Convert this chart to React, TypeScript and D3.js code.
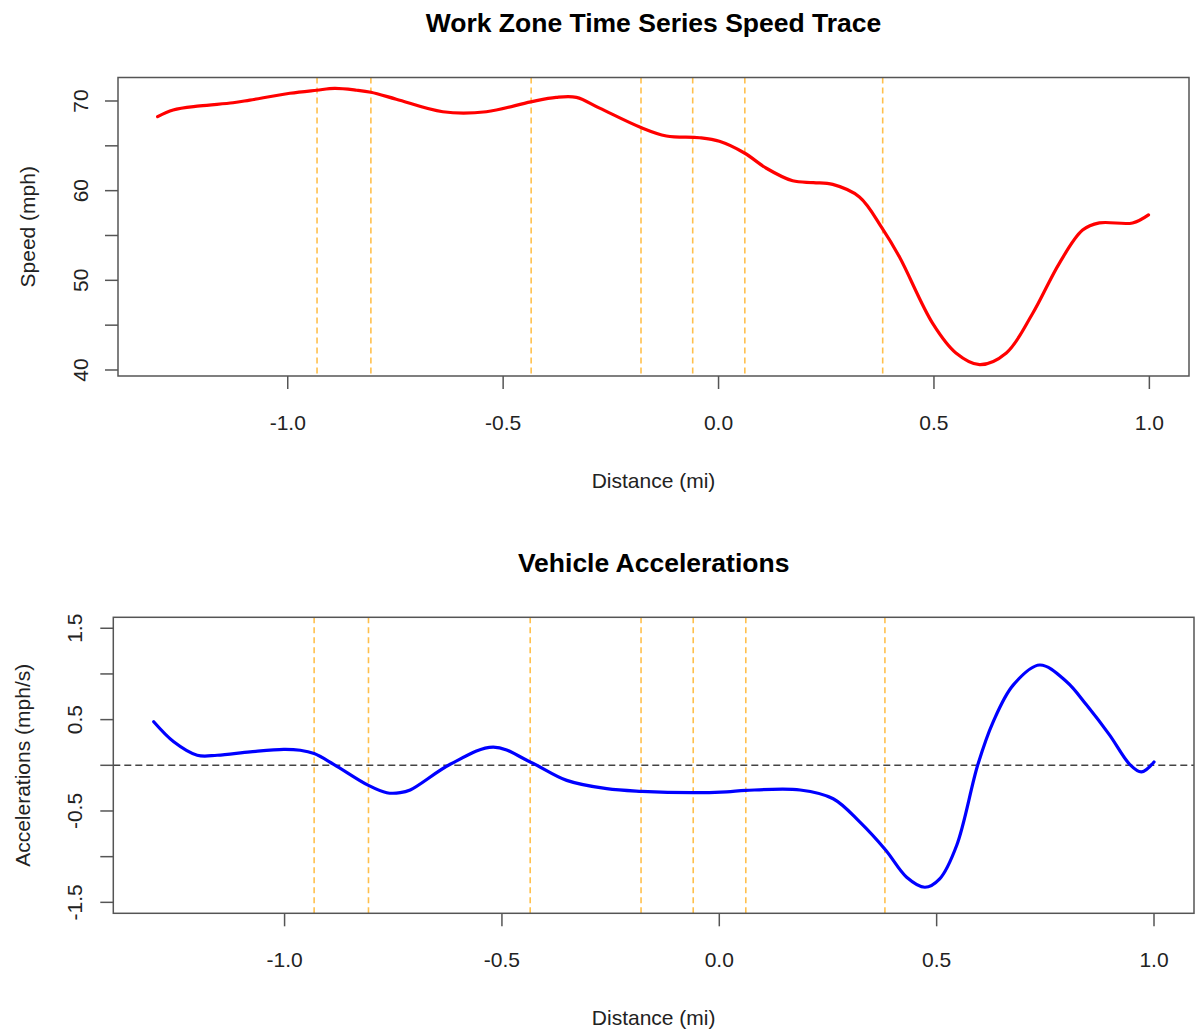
import React from "react";
import * as d3 from "d3";

// ---------- Data ----------
const speedDistance = [
  -1.302, -1.266, -1.204, -1.127, -1.088, -0.995, -0.933, -0.891, -0.84, -0.807,
  -0.748, -0.64, -0.539, -0.436, -0.377, -0.33, -0.276, -0.183, -0.121, -0.044,
  0.002, 0.06, 0.111, 0.172, 0.22, 0.265, 0.327, 0.38, 0.42, 0.497,
  0.551, 0.606, 0.668, 0.729, 0.791, 0.845, 0.884, 0.961, 0.998,
];
const speedValues = [
  68.25, 69.0, 69.45, 69.8, 70.1, 70.86, 71.2, 71.4, 71.2, 70.97,
  70.2, 68.8, 68.8, 69.9, 70.4, 70.4, 69.2, 67.1, 66.1, 65.9,
  65.5, 64.2, 62.5, 61.1, 60.9, 60.7, 59.3, 55.8, 52.6, 45.2,
  41.9, 40.6, 41.9, 46.3, 51.9, 55.6, 56.4, 56.4, 57.3,
];

const accelDistance = [
  -1.301, -1.255, -1.201, -1.155, -1.079, -1.002, -0.964, -0.932, -0.887, -0.807,
  -0.765, -0.734, -0.711, -0.619, -0.52, -0.435, -0.351, -0.259, -0.179, -0.06,
  0.017, 0.061, 0.186, 0.262, 0.323, 0.383, 0.431, 0.473, 0.507, 0.546,
  0.595, 0.63, 0.676, 0.737, 0.799, 0.845, 0.898, 0.944, 0.971, 1.0,
];
const accelValues = [
  0.476, 0.257, 0.11, 0.11, 0.147, 0.175, 0.165, 0.128, 0.011, -0.22,
  -0.3, -0.3, -0.27, 0.011, 0.2, 0.037, -0.165, -0.256, -0.285, -0.3,
  -0.29, -0.275, -0.27, -0.366, -0.62, -0.93, -1.225, -1.335, -1.243, -0.878,
  0.011, 0.476, 0.878, 1.098, 0.915, 0.659, 0.33, 0.011, -0.073, 0.037,
];

const zoneMarkers = [-0.932, -0.807, -0.435, -0.18, -0.06, 0.061, 0.381];

const xTicks = [-1.0, -0.5, 0.0, 0.5, 1.0];
const speedTicks = [40, 45, 50, 55, 60, 65, 70];
const speedTickLabels = [40, 50, 60, 70];
const accelTicks = [-1.5, -1.0, -0.5, 0.0, 0.5, 1.0, 1.5];
const accelTickLabels = [-1.5, -0.5, 0.5, 1.5];

const FONT = "'Liberation Sans', Arial, Helvetica, sans-serif";
const AXIS = "#555";
const TEXT = "#222";

type PanelProps = {
  box: { left: number; right: number; top: number; bottom: number };
  xDomain: [number, number];
  yDomain: [number, number];
  xs: number[];
  ys: number[];
  color: string;
  title: string;
  yLabel: string;
  yTicks: number[];
  yTickLabels: number[];
  yFmt: (v: number) => string;
  zeroLine?: boolean;
  titleY: number;
  yTickLabelX: number;
  yLabelX: number;
};

function Panel(p: PanelProps) {
  const { box } = p;
  const x = d3.scaleLinear().domain(p.xDomain).range([box.left, box.right]);
  const y = d3.scaleLinear().domain(p.yDomain).range([box.bottom, box.top]);
  const pts: [number, number][] = p.xs.map((d, i) => [d, p.ys[i]]);
  const line = d3
    .line<[number, number]>()
    .x((d) => x(d[0]))
    .y((d) => y(d[1]))
    .curve(d3.curveCatmullRom.alpha(0.5));
  const cx = (box.left + box.right) / 2;
  const cy = (box.top + box.bottom) / 2;
  return (
    <g fontFamily={FONT}>
      <text x={cx} y={p.titleY} textAnchor="middle" fontSize={26.5} fontWeight="bold" fill="#000">
        {p.title}
      </text>
      {zoneMarkers.map((m, i) => (
        <line
          key={"z" + i}
          x1={x(m)}
          x2={x(m)}
          y1={box.top}
          y2={box.bottom}
          stroke="#FFA500"
          strokeOpacity={0.7}
          strokeWidth={1.6}
          strokeDasharray="6,4"
        />
      ))}
      {p.zeroLine && (
        <line
          x1={box.left}
          x2={box.right}
          y1={y(0)}
          y2={y(0)}
          stroke="#444"
          strokeWidth={1.6}
          strokeDasharray="7,4"
        />
      )}
      <path d={line(pts) || ""} fill="none" stroke={p.color} strokeWidth={3.2} strokeLinejoin="round" strokeLinecap="round" />
      <rect
        x={box.left}
        y={box.top}
        width={box.right - box.left}
        height={box.bottom - box.top}
        fill="none"
        stroke={AXIS}
        strokeWidth={1.5}
      />
      {xTicks.map((t, i) => (
        <g key={"xt" + i}>
          <line x1={x(t)} x2={x(t)} y1={box.bottom} y2={box.bottom + 13} stroke={AXIS} strokeWidth={1.5} />
          <text x={x(t)} y={box.bottom + 54} textAnchor="middle" fontSize={21} fill={TEXT}>
            {t.toFixed(1)}
          </text>
        </g>
      ))}
      <text x={cx} y={box.bottom + 112} textAnchor="middle" fontSize={21} fill={TEXT}>
        Distance (mi)
      </text>
      {p.yTicks.map((t, i) => (
        <line key={"yt" + i} x1={box.left - 13} x2={box.left} y1={y(t)} y2={y(t)} stroke={AXIS} strokeWidth={1.5} />
      ))}
      {p.yTickLabels.map((t, i) => (
        <text
          key={"yl" + i}
          transform={`translate(${p.yTickLabelX},${y(t)}) rotate(-90)`}
          textAnchor="middle"
          fontSize={21}
          fill={TEXT}
        >
          {p.yFmt(t)}
        </text>
      ))}
      <text
        transform={`translate(${p.yLabelX},${cy}) rotate(-90)`}
        textAnchor="middle"
        fontSize={21}
        fill={TEXT}
      >
        {p.yLabel}
      </text>
    </g>
  );
}

export default function App() {
  const xDomain: [number, number] = [-1.394, 1.092];
  return (
    <svg
      width={1195}
      height={1031}
      style={{ position: "absolute", left: 0, top: 0, background: "#fff" }}
    >
      <rect x={0} y={0} width={1195} height={1031} fill="#fff" />
      <Panel
        box={{ left: 118, right: 1189, top: 77.5, bottom: 376 }}
        xDomain={xDomain}
        yDomain={[39.33, 72.62]}
        xs={speedDistance}
        ys={speedValues}
        color="#ff0000"
        title="Work Zone Time Series Speed Trace"
        yLabel="Speed (mph)"
        yTicks={speedTicks}
        yTickLabels={speedTickLabels}
        yFmt={(v) => String(v)}
        titleY={31.5}
        yTickLabelX={88}
        yLabelX={35}
      />
      <Panel
        box={{ left: 113.3, right: 1194, top: 617.3, bottom: 913.3 }}
        xDomain={xDomain}
        yDomain={[-1.62, 1.62]}
        xs={accelDistance}
        ys={accelValues}
        color="#0000ff"
        title="Vehicle Accelerations"
        yLabel="Accelerations (mph/s)"
        yTicks={accelTicks}
        yTickLabels={accelTickLabels}
        yFmt={(v) => v.toFixed(1)}
        zeroLine
        titleY={571.5}
        yTickLabelX={82}
        yLabelX={30}
      />
    </svg>
  );
}
